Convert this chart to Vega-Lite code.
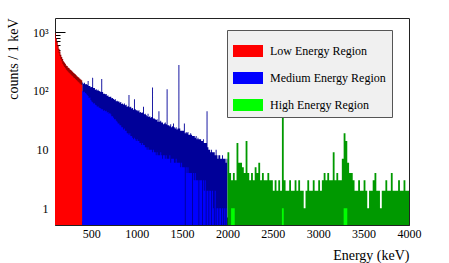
{
  "$schema": "https://vega.github.io/schema/vega-lite/v6.json",
  "width": 354,
  "height": 207,
  "autosize": {"type": "none"},
  "padding": {"left": 55, "top": 18, "right": 40, "bottom": 38},
  "config": {
    "font": "Liberation Serif",
    "view": {"stroke": null},
    "axis": {"grid": false, "labelFont": "Liberation Serif", "titleFont": "Liberation Serif", "labelColor": "#000", "titleColor": "#000", "titleFontWeight": "normal", "domainColor": "#222", "tickColor": "#000", "zindex": 1}
  },
  "data": {"values": [
    {"e":100,"h":960,"l":790,"r":"L"},{"e":110,"h":790,"l":670,"r":"L"},{"e":120,"h":690,"l":580,"r":"L"},{"e":130,"h":600,"l":505,"r":"L"},{"e":140,"h":525,"l":445,"r":"L"},{"e":150,"h":470,"l":395,"r":"L"},{"e":160,"h":415,"l":350,"r":"L"},{"e":170,"h":380,"l":320,"r":"L"},{"e":180,"h":350,"l":292,"r":"L"},{"e":190,"h":322,"l":272,"r":"L"},
    {"e":200,"h":305,"l":255,"r":"L"},{"e":210,"h":290,"l":243,"r":"L"},{"e":220,"h":272,"l":230,"r":"L"},{"e":230,"h":265,"l":220,"r":"L"},{"e":240,"h":252,"l":212,"r":"L"},{"e":250,"h":246,"l":205,"r":"L"},{"e":260,"h":234,"l":198,"r":"L"},{"e":270,"h":228,"l":190,"r":"L"},{"e":280,"h":222,"l":184,"r":"L"},{"e":290,"h":212,"l":178,"r":"L"},
    {"e":300,"h":205,"l":170,"r":"L"},{"e":310,"h":198,"l":166,"r":"L"},{"e":320,"h":192,"l":160,"r":"L"},{"e":330,"h":185,"l":154,"r":"L"},{"e":340,"h":178,"l":149,"r":"L"},{"e":350,"h":173,"l":144,"r":"L"},{"e":360,"h":168,"l":139,"r":"L"},{"e":370,"h":162,"l":134,"r":"L"},{"e":380,"h":156,"l":130,"r":"L"},{"e":390,"h":152,"l":126,"r":"L"},{"e":400,"h":152,"l":126,"r":"L"},
    {"e":400,"h":139,"l":100,"r":"M"},{"e":410,"h":133,"l":95,"r":"M"},{"e":420,"h":138,"l":97,"r":"M"},{"e":430,"h":130,"l":92,"r":"M"},{"e":440,"h":132,"l":90,"r":"M"},{"e":450,"h":127,"l":85,"r":"M"},{"e":460,"h":148,"l":82,"r":"M"},{"e":470,"h":121,"l":76,"r":"M"},{"e":480,"h":122,"l":77,"r":"M"},{"e":490,"h":116,"l":70,"r":"M"},
    {"e":500,"h":117,"l":66,"r":"M"},{"e":510,"h":168,"l":64,"r":"M"},{"e":520,"h":112,"l":61,"r":"M"},{"e":530,"h":112,"l":62,"r":"M"},{"e":540,"h":105,"l":58,"r":"M"},{"e":550,"h":107,"l":57,"r":"M"},{"e":560,"h":102,"l":54,"r":"M"},{"e":570,"h":105,"l":55,"r":"M"},{"e":580,"h":100,"l":52,"r":"M"},{"e":590,"h":99,"l":51,"r":"M"},
    {"e":600,"h":96,"l":50,"r":"M"},{"e":610,"h":160,"l":49,"r":"M"},{"e":620,"h":96,"l":49,"r":"M"},{"e":630,"h":90,"l":46,"r":"M"},{"e":640,"h":90,"l":47,"r":"M"},{"e":650,"h":88,"l":45,"r":"M"},{"e":660,"h":89,"l":46,"r":"M"},{"e":670,"h":83,"l":43,"r":"M"},{"e":680,"h":84,"l":44,"r":"M"},{"e":690,"h":79,"l":41,"r":"M"},
    {"e":700,"h":80,"l":42,"r":"M"},{"e":710,"h":80,"l":40,"r":"M"},{"e":720,"h":75,"l":37,"r":"M"},{"e":730,"h":76,"l":37,"r":"M"},{"e":740,"h":73,"l":35,"r":"M"},{"e":750,"h":71,"l":33,"r":"M"},{"e":760,"h":72,"l":33,"r":"M"},{"e":770,"h":67,"l":31,"r":"M"},{"e":780,"h":68,"l":30,"r":"M"},{"e":790,"h":66,"l":28,"r":"M"},
    {"e":800,"h":66,"l":28,"r":"M"},{"e":810,"h":63,"l":26,"r":"M"},{"e":820,"h":65,"l":26,"r":"M"},{"e":830,"h":60,"l":24,"r":"M"},{"e":840,"h":61,"l":24,"r":"M"},{"e":850,"h":59,"l":22,"r":"M"},{"e":860,"h":61,"l":23,"r":"M"},{"e":870,"h":57,"l":21,"r":"M"},{"e":880,"h":58,"l":21,"r":"M"},{"e":890,"h":54,"l":19,"r":"M"},
    {"e":900,"h":55,"l":19,"r":"M"},{"e":910,"h":85,"l":18,"r":"M"},{"e":920,"h":53,"l":19,"r":"M"},{"e":930,"h":54,"l":17,"r":"M"},{"e":940,"h":50,"l":17,"r":"M"},{"e":950,"h":51,"l":16,"r":"M"},{"e":960,"h":48,"l":15,"r":"M"},{"e":970,"h":72,"l":16,"r":"M"},{"e":980,"h":49,"l":15,"r":"M"},{"e":990,"h":47,"l":14,"r":"M"},
    {"e":1000,"h":47,"l":15,"r":"M"},{"e":1010,"h":45,"l":14,"r":"M"},{"e":1020,"h":47,"l":14,"r":"M"},{"e":1030,"h":43,"l":13,"r":"M"},{"e":1040,"h":44,"l":13,"r":"M"},{"e":1050,"h":42,"l":12,"r":"M"},{"e":1060,"h":43,"l":13,"r":"M"},{"e":1070,"h":54,"l":12,"r":"M"},{"e":1080,"h":40,"l":12,"r":"M"},{"e":1090,"h":41,"l":11,"r":"M"},
    {"e":1100,"h":39,"l":11,"r":"M"},{"e":1110,"h":37,"l":10,"r":"M"},{"e":1120,"h":41,"l":11,"r":"M"},{"e":1130,"h":36,"l":10,"r":"M"},{"e":1140,"h":37,"l":10,"r":"M"},{"e":1150,"h":35,"l":10,"r":"M"},{"e":1160,"h":36,"l":10,"r":"M"},{"e":1170,"h":115,"l":9,"r":"M"},{"e":1180,"h":34,"l":10,"r":"M"},{"e":1190,"h":34,"l":9,"r":"M"},
    {"e":1200,"h":33,"l":9,"r":"M"},{"e":1210,"h":32,"l":8,"r":"M"},{"e":1220,"h":33,"l":9,"r":"M"},{"e":1230,"h":30,"l":8,"r":"M"},{"e":1240,"h":45,"l":8,"r":"M"},{"e":1250,"h":30,"l":8,"r":"M"},{"e":1260,"h":31,"l":9,"r":"M"},{"e":1270,"h":29,"l":8,"r":"M"},{"e":1280,"h":29,"l":7,"r":"M"},{"e":1290,"h":27,"l":8,"r":"M"},
    {"e":1300,"h":28,"l":8,"r":"M"},{"e":1310,"h":29,"l":7,"r":"M"},{"e":1320,"h":27,"l":8,"r":"M"},{"e":1330,"h":107,"l":7,"r":"M"},{"e":1340,"h":26,"l":7,"r":"M"},{"e":1350,"h":26,"l":7,"r":"M"},{"e":1360,"h":25,"l":8,"r":"M"},{"e":1370,"h":27,"l":6,"r":"M"},{"e":1380,"h":24,"l":7,"r":"M"},{"e":1390,"h":25,"l":7,"r":"M"},
    {"e":1400,"h":28,"l":7,"r":"M"},{"e":1410,"h":24,"l":6,"r":"M"},{"e":1420,"h":23,"l":6,"r":"M"},{"e":1430,"h":24,"l":7,"r":"M"},{"e":1440,"h":22,"l":6,"r":"M"},{"e":1450,"h":23,"l":6,"r":"M"},{"e":1460,"h":277,"l":6,"r":"M"},{"e":1470,"h":23,"l":6,"r":"M"},{"e":1480,"h":21,"l":5,"r":"M"},{"e":1490,"h":21,"l":6,"r":"M"},
    {"e":1500,"h":21,"l":5,"r":"M"},{"e":1510,"h":21,"l":5,"r":"M"},{"e":1520,"h":28,"l":5,"r":"M"},{"e":1530,"h":19,"l":0.5,"r":"M"},{"e":1540,"h":20,"l":5,"r":"M"},{"e":1550,"h":19,"l":4,"r":"M"},{"e":1560,"h":20,"l":5,"r":"M"},{"e":1570,"h":18,"l":4,"r":"M"},{"e":1580,"h":18,"l":4,"r":"M"},{"e":1590,"h":19,"l":4,"r":"M"},
    {"e":1600,"h":18,"l":4,"r":"M"},{"e":1610,"h":17,"l":0.5,"r":"M"},{"e":1620,"h":17,"l":4,"r":"M"},{"e":1630,"h":17,"l":3,"r":"M"},{"e":1640,"h":16,"l":4,"r":"M"},{"e":1650,"h":17,"l":3,"r":"M"},{"e":1660,"h":15,"l":3,"r":"M"},{"e":1670,"h":16,"l":3,"r":"M"},{"e":1680,"h":15,"l":0.5,"r":"M"},{"e":1690,"h":15,"l":3,"r":"M"},
    {"e":1700,"h":15,"l":3,"r":"M"},{"e":1710,"h":14,"l":3,"r":"M"},{"e":1720,"h":14,"l":0.5,"r":"M"},{"e":1730,"h":15,"l":3,"r":"M"},{"e":1740,"h":13,"l":2,"r":"M"},{"e":1750,"h":13,"l":3,"r":"M"},{"e":1760,"h":13,"l":0.5,"r":"M"},{"e":1770,"h":45,"l":2,"r":"M"},{"e":1780,"h":11,"l":2,"r":"M"},{"e":1790,"h":10,"l":0.5,"r":"M"},
    {"e":1800,"h":10,"l":2,"r":"M"},{"e":1810,"h":9,"l":2,"r":"M"},{"e":1820,"h":10,"l":0.5,"r":"M"},{"e":1830,"h":9,"l":2,"r":"M"},{"e":1840,"h":9,"l":1,"r":"M"},{"e":1850,"h":9,"l":0.5,"r":"M"},{"e":1860,"h":8,"l":2,"r":"M"},{"e":1870,"h":10,"l":0.5,"r":"M"},{"e":1880,"h":8,"l":1,"r":"M"},{"e":1890,"h":7,"l":1,"r":"M"},
    {"e":1900,"h":8,"l":0.5,"r":"M"},{"e":1910,"h":8,"l":1,"r":"M"},{"e":1920,"h":7,"l":1,"r":"M"},{"e":1930,"h":7,"l":0.5,"r":"M"},{"e":1940,"h":8,"l":1,"r":"M"},{"e":1950,"h":7,"l":0.5,"r":"M"},{"e":1960,"h":7,"l":1,"r":"M"},{"e":1970,"h":7,"l":0.5,"r":"M"},{"e":1980,"h":6,"l":1,"r":"M"},{"e":1990,"h":7,"l":0.5,"r":"M"},{"e":2000,"h":7,"l":0.5,"r":"M"},
    {"e":2000,"h":9,"l":0.5,"r":"H"},{"e":2020,"h":4,"l":0.5,"r":"H"},{"e":2040,"h":3,"l":1,"r":"H"},{"e":2060,"h":4,"l":1,"r":"H"},{"e":2080,"h":3,"l":0.5,"r":"H"},{"e":2100,"h":13,"l":0.5,"r":"H"},{"e":2120,"h":6,"l":0.5,"r":"H"},{"e":2140,"h":6,"l":0.5,"r":"H"},{"e":2160,"h":5,"l":0.5,"r":"H"},{"e":2180,"h":4,"l":0.5,"r":"H"},
    {"e":2200,"h":14,"l":0.5,"r":"H"},{"e":2220,"h":4,"l":0.5,"r":"H"},{"e":2240,"h":3,"l":0.5,"r":"H"},{"e":2260,"h":4,"l":0.5,"r":"H"},{"e":2280,"h":3,"l":0.5,"r":"H"},{"e":2300,"h":5,"l":0.5,"r":"H"},{"e":2320,"h":4,"l":0.5,"r":"H"},{"e":2340,"h":6,"l":0.5,"r":"H"},{"e":2360,"h":3,"l":0.5,"r":"H"},{"e":2380,"h":4,"l":0.5,"r":"H"},
    {"e":2400,"h":3,"l":0.5,"r":"H"},{"e":2420,"h":3,"l":0.5,"r":"H"},{"e":2440,"h":4,"l":0.5,"r":"H"},{"e":2460,"h":3,"l":0.5,"r":"H"},{"e":2480,"h":3,"l":0.5,"r":"H"},{"e":2500,"h":2,"l":0.5,"r":"H"},{"e":2520,"h":3,"l":0.5,"r":"H"},{"e":2540,"h":2,"l":0.5,"r":"H"},{"e":2560,"h":3,"l":0.5,"r":"H"},{"e":2580,"h":2,"l":0.5,"r":"H"},
    {"e":2600,"h":56,"l":1,"r":"H"},{"e":2620,"h":3,"l":0.5,"r":"H"},{"e":2640,"h":2,"l":0.5,"r":"H"},{"e":2660,"h":2,"l":0.5,"r":"H"},{"e":2680,"h":3,"l":0.5,"r":"H"},{"e":2700,"h":2,"l":0.5,"r":"H"},{"e":2720,"h":2,"l":0.5,"r":"H"},{"e":2740,"h":3,"l":0.5,"r":"H"},{"e":2760,"h":2,"l":0.5,"r":"H"},{"e":2780,"h":3,"l":0.5,"r":"H"},
    {"e":2800,"h":2,"l":0.5,"r":"H"},{"e":2820,"h":2,"l":0.5,"r":"H"},{"e":2840,"h":1,"l":0.5,"r":"H"},{"e":2860,"h":2,"l":0.5,"r":"H"},{"e":2880,"h":3,"l":0.5,"r":"H"},{"e":2900,"h":2,"l":0.5,"r":"H"},{"e":2920,"h":2,"l":0.5,"r":"H"},{"e":2940,"h":3,"l":0.5,"r":"H"},{"e":2960,"h":2,"l":0.5,"r":"H"},{"e":2980,"h":2,"l":0.5,"r":"H"},
    {"e":3000,"h":3,"l":0.5,"r":"H"},{"e":3020,"h":2,"l":0.5,"r":"H"},{"e":3040,"h":3,"l":0.5,"r":"H"},{"e":3060,"h":4,"l":0.5,"r":"H"},{"e":3080,"h":3,"l":0.5,"r":"H"},{"e":3100,"h":4,"l":0.5,"r":"H"},{"e":3120,"h":3,"l":0.5,"r":"H"},{"e":3140,"h":3,"l":0.5,"r":"H"},{"e":3160,"h":9,"l":0.5,"r":"H"},{"e":3180,"h":3,"l":0.5,"r":"H"},
    {"e":3200,"h":4,"l":0.5,"r":"H"},{"e":3220,"h":3,"l":0.5,"r":"H"},{"e":3240,"h":3,"l":0.5,"r":"H"},{"e":3260,"h":7,"l":0.5,"r":"H"},{"e":3280,"h":19,"l":1,"r":"H"},{"e":3300,"h":14,"l":1,"r":"H"},{"e":3320,"h":6,"l":0.5,"r":"H"},{"e":3340,"h":4,"l":0.5,"r":"H"},{"e":3360,"h":4,"l":0.5,"r":"H"},{"e":3380,"h":3,"l":0.5,"r":"H"},
    {"e":3400,"h":2,"l":0.5,"r":"H"},{"e":3420,"h":2,"l":0.5,"r":"H"},{"e":3440,"h":3,"l":0.5,"r":"H"},{"e":3460,"h":2,"l":0.5,"r":"H"},{"e":3480,"h":2,"l":0.5,"r":"H"},{"e":3500,"h":3,"l":0.5,"r":"H"},{"e":3520,"h":2,"l":0.5,"r":"H"},{"e":3540,"h":1,"l":0.5,"r":"H"},{"e":3560,"h":2,"l":0.5,"r":"H"},{"e":3580,"h":2,"l":0.5,"r":"H"},
    {"e":3600,"h":3,"l":0.5,"r":"H"},{"e":3620,"h":4,"l":0.5,"r":"H"},{"e":3640,"h":2,"l":0.5,"r":"H"},{"e":3660,"h":2,"l":0.5,"r":"H"},{"e":3680,"h":1,"l":0.5,"r":"H"},{"e":3700,"h":2,"l":0.5,"r":"H"},{"e":3720,"h":2,"l":0.5,"r":"H"},{"e":3740,"h":3,"l":0.5,"r":"H"},{"e":3760,"h":2,"l":0.5,"r":"H"},{"e":3780,"h":2,"l":0.5,"r":"H"},
    {"e":3800,"h":4,"l":0.5,"r":"H"},{"e":3820,"h":2,"l":0.5,"r":"H"},{"e":3840,"h":2,"l":0.5,"r":"H"},{"e":3860,"h":2,"l":0.5,"r":"H"},{"e":3880,"h":3,"l":0.5,"r":"H"},{"e":3900,"h":2,"l":0.5,"r":"H"},{"e":3920,"h":2,"l":0.5,"r":"H"},{"e":3940,"h":3,"l":0.5,"r":"H"},{"e":3960,"h":2,"l":0.5,"r":"H"},{"e":3980,"h":2,"l":0.5,"r":"H"},{"e":4000,"h":2,"l":0.5,"r":"H"}
  ]},
  "layer": [
    {
      "mark": {"type": "area", "interpolate": "step-after", "clip": true, "opacity": 1},
      "encoding": {
        "x": {"field": "e", "type": "quantitative", "scale": {"domain": [100, 4000], "nice": false, "zero": false},
          "axis": {"orient": "bottom", "title": "Energy (keV)", "titleFontSize": 14, "titleAlign": "right", "titleAnchor": "end", "titleX": 354, "titleY": 30, "titleBaseline": "middle",
            "values": [100,200,300,400,500,600,700,800,900,1000,1100,1200,1300,1400,1500,1600,1700,1800,1900,2000,2100,2200,2300,2400,2500,2600,2700,2800,2900,3000,3100,3200,3300,3400,3500,3600,3700,3800,3900,4000],
            "labelExpr": "datum.value % 500 == 0 ? format(datum.value, 'd') : ''", "labelOverlap": false, "labelFlush": false, "labelFontSize": 12, "labelPadding": 11,
            "tickSize": {"condition": {"test": "datum.value % 500 == 0", "value": -8}, "value": -4}}},
        "y": {"field": "h", "type": "quantitative", "stack": null, "scale": {"type": "log", "domain": [0.52, 1750], "nice": false},
          "axis": {"orient": "left", "title": "counts / 1 keV", "titleFontSize": 14, "titleAnchor": "end", "titlePadding": 12,
            "values": [0.6,0.7,0.8,0.9,1,2,3,4,5,6,7,8,9,10,20,30,40,50,60,70,80,90,100,200,300,400,500,600,700,800,900,1000],
            "labelExpr": "datum.value == 1000 ? '10³' : datum.value == 100 ? '10²' : datum.value == 10 ? '10' : datum.value == 1 ? '1' : ''", "labelOverlap": false, "labelFontSize": 12, "labelPadding": 17,
            "tickSize": {"condition": {"test": "datum.value == 1 || datum.value == 10 || datum.value == 100 || datum.value == 1000", "value": -10}, "value": -5}}},
        "color": {"field": "r", "type": "nominal", "scale": {"domain": ["L", "M", "H"], "range": ["#990000", "#000099", "#009900"]}, "legend": null}
      }
    },
    {
      "mark": {"type": "area", "interpolate": "step-after", "clip": true, "opacity": 1},
      "encoding": {
        "x": {"field": "e", "type": "quantitative", "axis": null},
        "y": {"field": "l", "type": "quantitative", "stack": null, "axis": null},
        "color": {"field": "r", "type": "nominal", "scale": {"domain": ["L", "M", "H"], "range": ["#ff0000", "#0000ff", "#00ff00"]},
          "legend": {"orient": "none", "legendX": 172, "legendY": 12, "title": null, "fillColor": "#f0f0f0", "strokeColor": "#555", "padding": 6,
            "symbolType": "M-1,-0.4H1V0.4H-1Z", "symbolSize": 900, "symbolStrokeWidth": 0, "symbolOpacity": 1,
            "labelFont": "Liberation Serif", "labelFontSize": 12, "labelColor": "#000", "labelOffset": 7, "rowPadding": 6,
            "labelExpr": "datum.value == 'L' ? 'Low Energy Region' : datum.value == 'M' ? 'Medium Energy Region' : 'High Energy Region'"}}
      }
    },
    {
      "mark": {"type": "area", "opacity": 0, "clip": true},
      "encoding": {
        "x": {"field": "e", "type": "quantitative", "axis": {"orient": "top", "labels": false, "ticks": false, "title": null, "domainColor": "#222"}},
        "y": {"field": "h", "type": "quantitative", "stack": null, "axis": {"orient": "right", "labels": false, "ticks": false, "title": null, "domainColor": "#222"}}
      }
    }
  ],
  "resolve": {"scale": {"color": "independent"}, "axis": {"x": "independent", "y": "independent"}}
}
